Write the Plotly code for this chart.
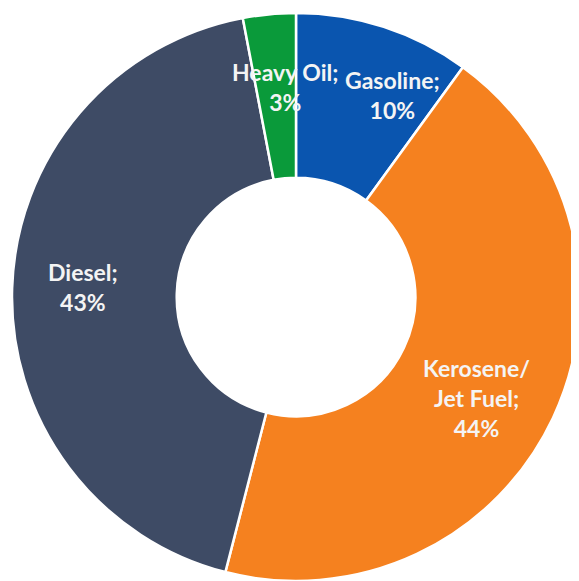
import math
import plotly.graph_objects as go

labels = ["Gasoline", "Kerosene/<br>Jet Fuel", "Diesel", "Heavy Oil"]
values = [10, 44, 43, 3]
colors = ["#0A55AF", "#F5811F", "#3E4B65", "#0A9A3A"]

HOLE = 0.42
# label placement: (angle nudge in degrees, radius as fraction of outer radius)
LABEL_PLACE = [(7.6, 0.79), (4.0, 0.73), (1.0, 0.75), (2.4, 0.74)]

fig = go.Figure(go.Pie(
    labels=labels,
    values=values,
    hole=HOLE,
    sort=False,
    direction="clockwise",
    rotation=0,
    marker=dict(colors=colors, line=dict(color="white", width=2.5)),
    textinfo="none",
    showlegend=False,
    hoverinfo="label+percent",
))

# labels placed near each slice's mid-angle (derived from the data)
total = sum(values)
cum = 0
for lab, v, (nudge, rf) in zip(labels, values, LABEL_PLACE):
    mid = (cum + v / 2) / total * 2 * math.pi + math.radians(nudge)
    cum += v
    x = 0.5 + 0.5 * rf * math.sin(mid)
    y = 0.5 + 0.5 * rf * math.cos(mid)
    fig.add_annotation(
        x=x, y=y, xref="paper", yref="paper",
        text=f"{lab};<br>{v}%", showarrow=False,
        font=dict(family="Lato", size=23, color="#F4F4F4", weight="bold"),
        align="center", xanchor="center", yanchor="middle",
    )

fig.update_layout(
    width=579, height=581,
    margin=dict(l=4, r=7, t=5, b=8),
    paper_bgcolor="white",
)
fig.write_html("out.html")
